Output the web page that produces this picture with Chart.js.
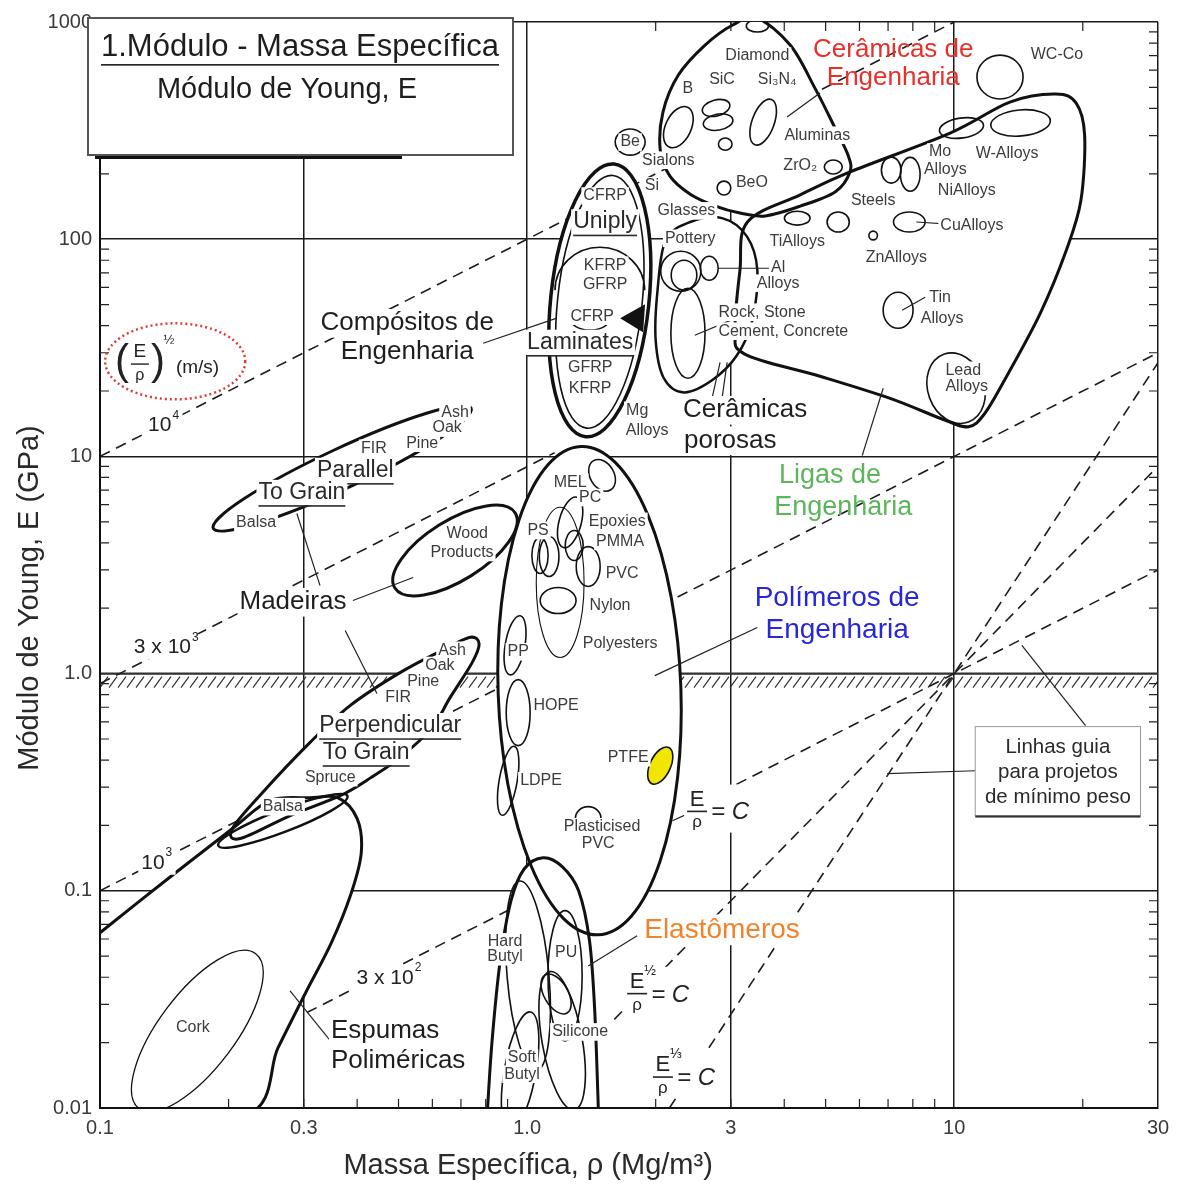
<!DOCTYPE html>
<html>
<head>
<meta charset="utf-8">
<script src="https://cdn.jsdelivr.net/npm/chart.js@4.4.1/dist/chart.umd.min.js"></script>
<style>
  html, body { margin: 0; padding: 0; background: #fff; }
  #wrap { width: 1183px; height: 1187px; }
</style>
</head>
<body>
<div id="wrap"><canvas id="chart_youngDensity"></canvas></div>
<script>
// ---- axes ----
const xTickValues = [0.1, 0.3, 1, 3, 10, 30];
const xTickLabels = ['0.1', '0.3', '1.0', '3', '10', '30'];
const yTickValues = [0.01, 0.1, 1, 10, 100, 1000];
const yTickLabels = ['0.01', '0.1', '1.0', '10', '100', '1000'];
const hatchLevel = 1; // E = 1 GPa lower limit line

// ---- dashed guide lines, [density Mg/m3, modulus GPa] ----
const velocity1e4 = [[0.1, 10], [10, 1000]];
const velocity3e3 = [[0.1, 0.9], [1.16, 10.4]];
const velocity1e3 = [[0.1, 0.1], [30, 30]];
const velocity3e2 = [[0.305, 0.0275], [1.0, 0.09]];
const tieLine = [[2.6, 0.26], [30, 3]];          // E/rho = C
const beamLine = [[1.6, 0.0256], [30, 9]];       // E^1/2/rho = C
const plateLine = [[2.154, 0.01], [30, 27]];     // E^1/3/rho = C

// ---- family envelopes (outline points) ----
const ceramicsEnv = [
  [3.45, 1043], [4.13, 783], [4.72, 496], [5.26, 325], [5.64, 244], [5.70, 204],
  [5.26, 165], [4.36, 142], [3.61, 128], [3.15, 132], [2.76, 142], [2.41, 161],
  [2.16, 195], [2.05, 257], [2.08, 385], [2.26, 570], [2.61, 783], [3.03, 969]
];
const metalsEnv = [
  [3.28, 120], [4.36, 160], [5.70, 204], [9.78, 308], [13.5, 428], [17.3, 466],
  [19.3, 423], [20.2, 301], [19.8, 151], [18.3, 89], [15.9, 45.6], [13.3, 23.6],
  [11.8, 15.8], [10.8, 13.7], [9.5, 14.7], [7.08, 18.5], [4.85, 23.4], [3.24, 29.5],
  [3.07, 38.1], [3.15, 71.9]
];
const porousEnv = [
  [2.11, 98.9], [2.41, 120], [2.86, 125], [3.27, 103], [3.46, 71.9], [3.37, 42.4],
  [3.10, 29.2], [2.71, 22.4], [2.33, 19.7], [2.09, 22.9], [2.00, 34.2], [2.02, 58.2]
];
const elastomersEnv = [
  [0.806, 0.0092], [0.828, 0.0204], [0.865, 0.0476], [0.917, 0.090], [0.984, 0.126],
  [1.09, 0.142], [1.21, 0.129], [1.32, 0.1], [1.40, 0.0589], [1.44, 0.028], [1.47, 0.0092]
];
const foamsEnv = [
  [0.0973, 0.0614], [0.142, 0.111], [0.204, 0.193], [0.250, 0.260], [0.310, 0.268],
  [0.361, 0.268], [0.400, 0.215], [0.409, 0.150], [0.387, 0.0969], [0.348, 0.0576],
  [0.302, 0.0335], [0.261, 0.0189], [0.219, 0.0092], [0.0973, 0.0092]
];
const woodsPerpEnv = [
  [0.204, 0.193], [0.240, 0.283], [0.310, 0.481], [0.385, 0.712], [0.504, 1.01],
  [0.643, 1.30], [0.736, 1.47], [0.772, 1.37], [0.743, 1.12], [0.660, 0.775],
  [0.599, 0.564], [0.504, 0.410], [0.434, 0.335], [0.365, 0.274], [0.279, 0.222], [0.213, 0.174]
];

// ellipses: [density, modulus, half-width in x decades, half-height in y decades, tilt deg]
const woodsParallel = [0.369, 8.81, 0.333, 0.092, -25];
const woodProducts = [0.678, 3.69, 0.166, 0.138, -32];
const balsaPerp = [0.268, 0.210, 0.162, 0.051, -21];
const corkEnv = [0.169, 0.0226, 0.227, 0.175, -53];
const compositesEnv = [1.48, 52.3, 0.115, 0.631, 6];
const compositesInner = [1.48, 51.5, 0.099, 0.585, 6];
const polymersEnv = [1.40, 0.835, 0.214, 1.125, -2];

const ceramicBubbles = [
  [3.46, 959, 0.026, 0.028, 0], [2.26, 328, 0.030, 0.101, 25], [2.77, 402, 0.033, 0.037, -15],
  [2.80, 346, 0.035, 0.037, -10], [2.91, 274, 0.016, 0.028, 0], [3.57, 346, 0.026, 0.111, 20],
  [1.743, 280, 0.035, 0.060, 0], [5.21, 215, 0.021, 0.032, 0], [2.89, 172, 0.016, 0.032, 0]
];
const metalBubbles = [
  [12.8, 558, 0.054, 0.101, 0], [14.3, 343, 0.070, 0.060, -5], [10.4, 325, 0.052, 0.046, -8],
  [7.12, 208, 0.023, 0.060, 0], [7.89, 199, 0.023, 0.078, 0], [7.85, 120, 0.037, 0.046, 0],
  [6.46, 104, 0.010, 0.020, 0], [4.29, 125, 0.030, 0.032, 0], [5.35, 120, 0.026, 0.046, 0],
  [2.67, 73.5, 0.021, 0.055, 0], [7.39, 47.1, 0.035, 0.083, 0], [10.1, 20.6, 0.066, 0.166, -20]
];
const porousBubbles = [
  [2.29, 71.2, 0.047, 0.092, 0], [2.33, 68.3, 0.030, 0.069, 0], [2.38, 36.9, 0.040, 0.207, 0]
];
const polymerBubbles = [
  [1.498, 8.18, 0.028, 0.078, -30], [1.261, 4.97, 0.026, 0.120, 15], [1.072, 3.50, 0.019, 0.083, 0],
  [1.126, 3.46, 0.023, 0.092, 0], [1.289, 3.89, 0.021, 0.069, 0], [1.39, 3.11, 0.028, 0.092, 0],
  [1.182, 2.17, 0.042, 0.060, 0], [0.937, 1.35, 0.023, 0.138, 10], [0.953, 0.661, 0.028, 0.152, 0],
  [0.903, 0.321, 0.021, 0.161, 10]
];
const polyesterBubble = [1.195, 2.63, 0.056, 0.346, 0];
const ptfeBubble = [2.05, 0.377, 0.024, 0.092, 25];
const elastomerBubbles = [
  [1.005, 0.0406, 0.049, 0.438, -5], [1.227, 0.0406, 0.040, 0.300, 0],
  [1.208, 0.0204, 0.047, 0.323, -10], [0.963, 0.0148, 0.037, 0.276, 10],
  [1.169, 0.0335, 0.028, 0.101, -30]
];
// partial arcs: ellipse + start/end angle (deg)
const partialArcs = [
  [1.48, 58.2, 0.105, 0.198, 0, 180, 360],
  [1.404, 43.3, 0.047, 0.055, 0, 0, 180],
  [1.39, 0.215, 0.030, 0.055, 0, 180, 360]
];
const laminateWedge = [[1.651, 43.2], [1.889, 50.2], [1.869, 37.3]];

const leaderLines = [
  [[0.789, 33.2], [1.169, 43.2]], [[0.289, 5.46], [0.3275, 2.54]], [[0.391, 2.17], [0.541, 2.77]],
  [[0.375, 1.58], [0.445, 0.809]], [[0.2786, 0.0346], [0.346, 0.0204]], [[2.71, 18.5], [2.83, 27.1]],
  [[2.86, 18.5], [2.94, 27.1]], [[6.09, 10.1], [6.82, 20.6]], [[1.99, 0.979], [3.46, 1.63]],
  [[1.39, 0.0451], [1.81, 0.0621]], [[2.19, 0.210], [2.41, 0.229]], [[20.3, 0.576], [14.4, 1.35]],
  [[11.2, 0.357], [6.97, 0.346]], [[4.06, 365], [4.85, 471]], [[3.71, 73.5], [2.80, 73.5]],
  [[3.07, 43.2], [2.47, 36.1]], [[9.89, 117], [8.15, 120]], [[8.55, 54.0], [7.55, 47.1]]
];

// ---- text ----
const smallLabels = [
  ['Diamond', 3.46, 697], ['B', 2.38, 496], ['SiC', 2.86, 541], ['Si₃N₄', 3.85, 541],
  ['Be', 1.743, 280], ['Sialons', 2.14, 231], ['Aluminas', 4.78, 301], ['ZrO₂', 4.36, 219],
  ['Si', 1.96, 176], ['BeO', 3.36, 183], ['Glasses', 2.36, 135], ['Pottery', 2.41, 101],
  ['WC-Co', 17.4, 705], ['Mo', 9.27, 252], ['Alloys', 9.53, 210], ['W-Alloys', 13.3, 249],
  ['NiAlloys', 10.7, 168], ['Steels', 6.46, 151], ['CuAlloys', 11.0, 116], ['TiAlloys', 4.29, 97.9],
  ['ZnAlloys', 7.32, 82.6], ['Al', 3.87, 74.3], ['Alloys', 3.87, 62.7], ['Tin', 9.27, 54.0],
  ['Alloys', 9.37, 43.3], ['Lead', 10.5, 24.9], ['Alloys', 10.7, 21.0], ['Rock, Stone', 3.55, 46.1],
  ['Cement, Concrete', 3.98, 37.7], ['Mg', 1.81, 16.3], ['Alloys', 1.91, 13.2],
  ['CFRP', 1.523, 158], ['KFRP', 1.523, 75.9], ['GFRP', 1.523, 62.1], ['CFRP', 1.42, 44.2],
  ['GFRP', 1.405, 25.7], ['KFRP', 1.405, 20.6],
  ['Ash', 0.678, 15.9], ['Oak', 0.650, 13.5], ['Pine', 0.568, 11.5], ['FIR', 0.438, 10.9],
  ['Balsa', 0.232, 4.97], ['Wood', 0.724, 4.42], ['Products', 0.704, 3.61],
  ['Ash', 0.667, 1.28], ['Oak', 0.625, 1.09], ['Pine', 0.571, 0.919], ['FIR', 0.499, 0.775],
  ['Spruce', 0.346, 0.332], ['Balsa', 0.268, 0.244], ['Cork', 0.165, 0.0234],
  ['MEL', 1.261, 7.59], ['PC', 1.405, 6.47], ['PS', 1.061, 4.56], ['Epoxies', 1.625, 5.02],
  ['PMMA', 1.651, 4.06], ['PVC', 1.669, 2.89], ['Nylon', 1.564, 2.06], ['Polyesters', 1.651, 1.375],
  ['PP', 0.953, 1.26], ['HOPE', 1.169, 0.712], ['PTFE', 1.724, 0.410], ['LDPE', 1.078, 0.321],
  ['Plasticised', 1.498, 0.197], ['PVC', 1.467, 0.165],
  ['Hard', 0.888, 0.0582], ['Butyl', 0.888, 0.0497], ['PU', 1.234, 0.0518],
  ['Silicone', 1.331, 0.0224], ['Soft', 0.973, 0.0170], ['Butyl', 0.973, 0.0143]
];
const underlinedLabels = [
  ['Uniply', 1.523, 120], ['Laminates', 1.331, 33.5], ['Parallel', 0.396, 8.62],
  ['To Grain', 0.297, 6.82], ['Perpendicular', 0.478, 0.576], ['To Grain', 0.420, 0.433]
];
const familyLabels = [
  ['Compósitos de', 0.524, 41.0], ['Engenharia', 0.524, 30.2], ['Cerâmicas', 3.24, 16.3],
  ['porosas', 2.99, 11.8], ['Madeiras', 0.283, 2.13], ['Espumas', 0.465, 0.0226],
  ['Poliméricas', 0.499, 0.0165]
];
const ceramicsTitle = [['Cerâmicas de', 7.20, 743], ['Engenharia', 7.20, 552]];
const alloysTitle = [['Ligas de', 5.12, 8.18], ['Engenharia', 5.50, 5.82]];
const polymersTitle = [['Polímeros de', 5.32, 2.22], ['Engenharia', 5.32, 1.58]];
const elastomersTitle = [['Elastômeros', 2.86, 0.0661]];
const velocityLabels = [
  ['10', '4', 0.138, 13.9], ['3 x 10', '3', 0.140, 1.32],
  ['10', '3', 0.133, 0.1346], ['3 x 10', '2', 0.465, 0.0397]
];
const formulaLabels = [['', 2.50, 0.234], ['½', 1.81, 0.0339], ['⅓', 2.08, 0.0140]];
const velocityKey = [0.124, 27.1];
const velocityKeyRing = [0.150, 27.4, 0.164, 0.175, 0];
const guideNote = ['Linhas guia', 'para projetos', 'de mínimo peso'];
const guideNoteBox = [[11.2, 0.570], [27.3, 0.222]];
const titleLines = ['1.Módulo - Massa Específica', 'Módulo de Young, E'];
const xTitle = 'Massa Específica, ρ (Mg/m³)';
const yTitle = 'Módulo de Young, E (GPa)';

// ---- drawing helpers ----
const FONT = '"Liberation Sans", Arial, sans-serif';
function font(size, style) { return (style ? style + ' ' : '') + size + 'px ' + FONT; }

function toPx(chart, p) {
  return [chart.scales.x.getPixelForValue(p[0]), chart.scales.y.getPixelForValue(p[1])];
}
function decadePx(chart) {
  const sx = chart.scales.x, sy = chart.scales.y;
  return [sx.getPixelForValue(10) - sx.getPixelForValue(1), sy.getPixelForValue(1) - sy.getPixelForValue(10)];
}
function ellipsePath(ctx, chart, e, a0, a1) {
  const c = toPx(chart, e);
  const d = decadePx(chart);
  ctx.ellipse(c[0], c[1], e[2] * d[0], e[3] * d[1], (e[4] || 0) * Math.PI / 180,
    a0 === undefined ? 0 : a0, a1 === undefined ? Math.PI * 2 : a1);
}
function splinePath(ctx, pts, closed) {
  const n = pts.length;
  ctx.moveTo(pts[0][0], pts[0][1]);
  const last = closed ? n : n - 1;
  for (let i = 0; i < last; i++) {
    const p0 = pts[closed ? (i - 1 + n) % n : Math.max(i - 1, 0)];
    const p1 = pts[i];
    const p2 = pts[(i + 1) % n];
    const p3 = pts[closed ? (i + 2) % n : Math.min(i + 2, n - 1)];
    ctx.bezierCurveTo(p1[0] + (p2[0] - p0[0]) / 6, p1[1] + (p2[1] - p0[1]) / 6,
      p2[0] - (p3[0] - p1[0]) / 6, p2[1] - (p3[1] - p1[1]) / 6, p2[0], p2[1]);
  }
  if (closed) ctx.closePath();
}
function shapePath(ctx, chart, s) {
  ctx.beginPath();
  if (s.ell) ellipsePath(ctx, chart, s.ell);
  else splinePath(ctx, s.pts.map(p => toPx(chart, p)), s.closed);
}
function textAt(ctx, str, x, y, size, opts) {
  opts = opts || {};
  ctx.font = font(size, opts.style);
  ctx.textAlign = 'center';
  ctx.textBaseline = 'middle';
  const w = ctx.measureText(str).width;
  if (opts.bg) {
    ctx.fillStyle = '#fff';
    ctx.fillRect(x - w / 2 - 2, y - size * 0.55, w + 4, size * 1.1);
  }
  ctx.fillStyle = opts.color || '#222';
  ctx.fillText(str, x, y);
  if (opts.underline) ctx.fillRect(x - w / 2, y + size * 0.55, w, 1.6);
}

const envelopes = [
  { pts: foamsEnv, closed: false, w: 3 },
  { pts: woodsPerpEnv, closed: true, w: 3 },
  { ell: balsaPerp, w: 2.5 },
  { ell: corkEnv, w: 1.3 },
  { ell: woodsParallel, w: 3 },
  { ell: woodProducts, w: 3 },
  { ell: polymersEnv, w: 3 },
  { pts: elastomersEnv, closed: false, w: 3 },
  { ell: compositesEnv, w: 3.5 },
  { pts: ceramicsEnv, closed: true, w: 3 },
  { pts: metalsEnv, closed: true, w: 3 },
  { pts: porousEnv, closed: true, w: 2.5 }
];

const ashbyPlugin = {
  id: 'ashby',
  beforeDatasetsDraw(chart) {
    const { ctx, chartArea: a } = chart;
    const yy = chart.scales.y.getPixelForValue(hatchLevel);
    ctx.save();
    ctx.beginPath(); ctx.rect(a.left, a.top, a.right - a.left, a.bottom - a.top); ctx.clip();
    ctx.strokeStyle = '#333'; ctx.lineWidth = 1.2;
    ctx.beginPath();
    for (let px = a.left; px < a.right; px += 9) { ctx.moveTo(px, yy + 14); ctx.lineTo(px + 8, yy + 3); }
    ctx.stroke();
    ctx.lineWidth = 2;
    ctx.beginPath(); ctx.moveTo(a.left, yy); ctx.lineTo(a.right, yy); ctx.stroke();
    ctx.restore();
  },
  afterDatasetsDraw(chart) {
    const { ctx, chartArea: a } = chart;
    ctx.save();
    ctx.beginPath(); ctx.rect(a.left, a.top, a.right - a.left, a.bottom - a.top); ctx.clip();
    ctx.fillStyle = '#fff';
    envelopes.forEach(s => { shapePath(ctx, chart, s); ctx.fill(); });
    ctx.strokeStyle = '#111'; ctx.lineJoin = 'round';
    envelopes.forEach(s => { ctx.lineWidth = s.w; shapePath(ctx, chart, s); ctx.stroke(); });

    ctx.lineWidth = 1.6;
    ctx.beginPath(); ellipsePath(ctx, chart, compositesInner); ctx.stroke();
    [ceramicBubbles, metalBubbles, porousBubbles, polymerBubbles, elastomerBubbles].forEach(group => {
      group.forEach(e => { ctx.beginPath(); ellipsePath(ctx, chart, e); ctx.stroke(); });
    });
    ctx.lineWidth = 1.1;
    ctx.beginPath(); ellipsePath(ctx, chart, polyesterBubble); ctx.stroke();
    ctx.lineWidth = 1.6;
    partialArcs.forEach(e => {
      ctx.beginPath(); ellipsePath(ctx, chart, e, e[5] * Math.PI / 180, e[6] * Math.PI / 180); ctx.stroke();
    });
    ctx.fillStyle = '#f2e600';
    ctx.beginPath(); ellipsePath(ctx, chart, ptfeBubble); ctx.fill(); ctx.stroke();
    ctx.fillStyle = '#111';
    ctx.beginPath();
    laminateWedge.forEach((p, i) => { const q = toPx(chart, p); i ? ctx.lineTo(q[0], q[1]) : ctx.moveTo(q[0], q[1]); });
    ctx.closePath(); ctx.fill();

    ctx.lineWidth = 1.2; ctx.strokeStyle = '#222';
    leaderLines.forEach(l => {
      const p = toPx(chart, l[0]), q = toPx(chart, l[1]);
      ctx.beginPath(); ctx.moveTo(p[0], p[1]); ctx.lineTo(q[0], q[1]); ctx.stroke();
    });
    ctx.restore();
  },
  afterDraw(chart) {
    const { ctx, chartArea: a, scales: { x, y } } = chart;
    ctx.save();
    // minor ticks on all four sides
    ctx.strokeStyle = '#222'; ctx.lineWidth = 1.2;
    ctx.beginPath();
    [0.1, 1, 10].forEach(d => {
      for (let m = 2; m <= 9; m++) {
        const v = d * m;
        if (v >= 30) break;
        const px = x.getPixelForValue(v);
        ctx.moveTo(px, a.bottom); ctx.lineTo(px, a.bottom - 9);
        ctx.moveTo(px, a.top); ctx.lineTo(px, a.top + 9);
      }
    });
    [0.01, 0.1, 1, 10, 100].forEach(d => {
      for (let m = 2; m <= 9; m++) {
        const py = y.getPixelForValue(d * m);
        ctx.moveTo(a.left, py); ctx.lineTo(a.left + 9, py);
        ctx.moveTo(a.right, py); ctx.lineTo(a.right - 9, py);
      }
    });
    ctx.stroke();

    // labels
    smallLabels.forEach(l => { const p = toPx(chart, [l[1], l[2]]); textAt(ctx, l[0], p[0], p[1], 16, { bg: true, color: '#3c3c3c' }); });
    underlinedLabels.forEach(l => { const p = toPx(chart, [l[1], l[2]]); textAt(ctx, l[0], p[0], p[1], 23, { bg: true, underline: true, color: '#2a2a2a' }); });
    familyLabels.forEach(l => { const p = toPx(chart, [l[1], l[2]]); textAt(ctx, l[0], p[0], p[1], 26, { bg: true, color: '#1e1e1e' }); });
    ceramicsTitle.forEach(l => { const p = toPx(chart, [l[1], l[2]]); textAt(ctx, l[0], p[0], p[1], 26, { color: '#e8302b' }); });
    alloysTitle.forEach(l => { const p = toPx(chart, [l[1], l[2]]); textAt(ctx, l[0], p[0], p[1], 27, { color: '#5bb65b' }); });
    polymersTitle.forEach(l => { const p = toPx(chart, [l[1], l[2]]); textAt(ctx, l[0], p[0], p[1], 28, { color: '#2727d9' }); });
    elastomersTitle.forEach(l => { const p = toPx(chart, [l[1], l[2]]); textAt(ctx, l[0], p[0], p[1], 28, { bg: true, color: '#f0842a' }); });

    velocityLabels.forEach(l => {
      const p = toPx(chart, [l[2], l[3]]);
      ctx.font = font(21);
      const w = ctx.measureText(l[0]).width;
      ctx.fillStyle = '#fff'; ctx.fillRect(p[0] - w / 2 - 3, p[1] - 13, w + 14, 25);
      ctx.fillStyle = '#222'; ctx.textAlign = 'center'; ctx.textBaseline = 'middle';
      ctx.fillText(l[0], p[0], p[1]);
      ctx.font = font(12); ctx.textAlign = 'left';
      ctx.fillText(l[1], p[0] + w / 2 + 1, p[1] - 10);
    });

    formulaLabels.forEach(l => {
      const p = toPx(chart, [l[1], l[2]]);
      const cx = p[0], cy = p[1];
      ctx.fillStyle = '#fff'; ctx.fillRect(cx - 13, cy - 26, 68, 48);
      ctx.fillStyle = '#222'; ctx.textAlign = 'center'; ctx.textBaseline = 'middle';
      ctx.font = font(22); ctx.fillText('E', cx, cy - 11);
      if (l[0]) { ctx.font = font(14); ctx.fillText(l[0], cx + 13, cy - 22); }
      ctx.fillRect(cx - 10, cy, 20, 1.6);
      ctx.font = font(17); ctx.fillText('ρ', cx, cy + 12);
      ctx.font = font(24, 'italic'); ctx.textAlign = 'left';
      ctx.fillText('= C', cx + 14, cy + 2);
    });

    // (E/rho)^1/2 key with red dotted ring
    {
      const p = toPx(chart, velocityKey);
      const cx = p[0], cy = p[1];
      ctx.fillStyle = '#222'; ctx.textAlign = 'center'; ctx.textBaseline = 'middle';
      ctx.font = font(42); ctx.fillText('(', cx - 18, cy); ctx.fillText(')', cx + 18, cy);
      ctx.font = font(19); ctx.fillText('E', cx, cy - 11);
      ctx.fillRect(cx - 9, cy + 1, 18, 1.4);
      ctx.font = font(16); ctx.fillText('ρ', cx, cy + 13);
      ctx.font = font(13); ctx.fillText('½', cx + 29, cy - 22);
      ctx.font = font(19); ctx.textAlign = 'left'; ctx.fillText('(m/s)', cx + 36, cy + 5);
      ctx.strokeStyle = '#e23a3a'; ctx.lineWidth = 2.5; ctx.setLineDash([2, 3]);
      ctx.beginPath(); ellipsePath(ctx, chart, velocityKeyRing); ctx.stroke();
      ctx.setLineDash([]);
    }

    // guide note box
    {
      const tl = toPx(chart, guideNoteBox[0]), br = toPx(chart, guideNoteBox[1]);
      ctx.fillStyle = '#fff'; ctx.fillRect(tl[0], tl[1], br[0] - tl[0], br[1] - tl[1]);
      ctx.strokeStyle = '#9a9a9a'; ctx.lineWidth = 1; ctx.strokeRect(tl[0], tl[1], br[0] - tl[0], br[1] - tl[1]);
      ctx.fillStyle = '#333'; ctx.fillRect(tl[0], br[1], br[0] - tl[0], 2);
      guideNote.forEach((t, i) => textAt(ctx, t, (tl[0] + br[0]) / 2, tl[1] + 21 + i * 25, 20.5, { color: '#2a2a2a' }));
    }

    // title box
    {
      const bx = a.left - 12, by = a.top - 4, bw = 425, bh = 137;
      ctx.fillStyle = '#fff'; ctx.fillRect(bx, by, bw, bh);
      ctx.strokeStyle = '#555'; ctx.lineWidth = 2; ctx.strokeRect(bx, by, bw, bh);
      ctx.fillStyle = '#111'; ctx.fillRect(a.left - 5, by + bh + 1, 307, 3);
      textAt(ctx, titleLines[0], bx + 212, by + 29, 31, { underline: true, color: '#1e1e1e' });
      textAt(ctx, titleLines[1], bx + 199, by + 72, 29, { color: '#1e1e1e' });
    }

    // axis titles
    ctx.fillStyle = '#2a2a2a';
    ctx.font = font(29);
    ctx.textAlign = 'center'; ctx.textBaseline = 'middle';
    ctx.fillText(xTitle, x.getPixelForValue(1) + 1, a.bottom + 58);
    ctx.translate(30, 598); ctx.rotate(-Math.PI / 2);
    ctx.fillText(yTitle, 0, 0);
    ctx.restore();
  }
};

const guideLines = [velocity1e4, velocity3e3, velocity1e3, velocity3e2, tieLine, beamLine, plateLine];

const chart_youngDensity = new Chart(document.getElementById('chart_youngDensity'), {
  type: 'scatter',
  data: {
    datasets: guideLines.map(line => ({
      data: line.map(p => ({ x: p[0], y: p[1] })),
      showLine: true,
      borderColor: '#1c1c1c',
      borderWidth: 1.6,
      borderDash: [11, 7],
      pointRadius: 0,
      fill: false
    }))
  },
  options: {
    animation: false,
    responsive: true,
    maintainAspectRatio: false,
    devicePixelRatio: 1,
    events: [],
    layout: { padding: { left: 0, top: 22, right: 25, bottom: 0 } },
    plugins: { legend: { display: false }, tooltip: { enabled: false } },
    scales: {
      x: {
        type: 'logarithmic',
        min: 0.1,
        max: 30,
        afterBuildTicks: scale => { scale.ticks = xTickValues.map(v => ({ value: v })); },
        afterFit: scale => { scale.height = 79; },
        ticks: {
          autoSkip: false,
          maxRotation: 0,
          padding: 8,
          color: '#3a3a3a',
          font: { family: '"Liberation Sans", Arial, sans-serif', size: 20 },
          callback: (value, index) => xTickLabels[index]
        },
        grid: { color: '#1a1a1a', lineWidth: 1.5, drawTicks: false },
        border: { display: true, color: '#111', width: 2, z: 1 }
      },
      y: {
        type: 'logarithmic',
        min: 0.01,
        max: 1000,
        afterBuildTicks: scale => { scale.ticks = yTickValues.map(v => ({ value: v })); },
        afterFit: scale => { scale.width = 100; },
        ticks: {
          autoSkip: false,
          padding: 8,
          color: '#3a3a3a',
          font: { family: '"Liberation Sans", Arial, sans-serif', size: 20 },
          callback: (value, index) => yTickLabels[index]
        },
        grid: { color: '#1a1a1a', lineWidth: 1.5, drawTicks: false },
        border: { display: true, color: '#111', width: 2, z: 1 }
      }
    }
  },
  plugins: [ashbyPlugin]
});
</script>
</body>
</html>
